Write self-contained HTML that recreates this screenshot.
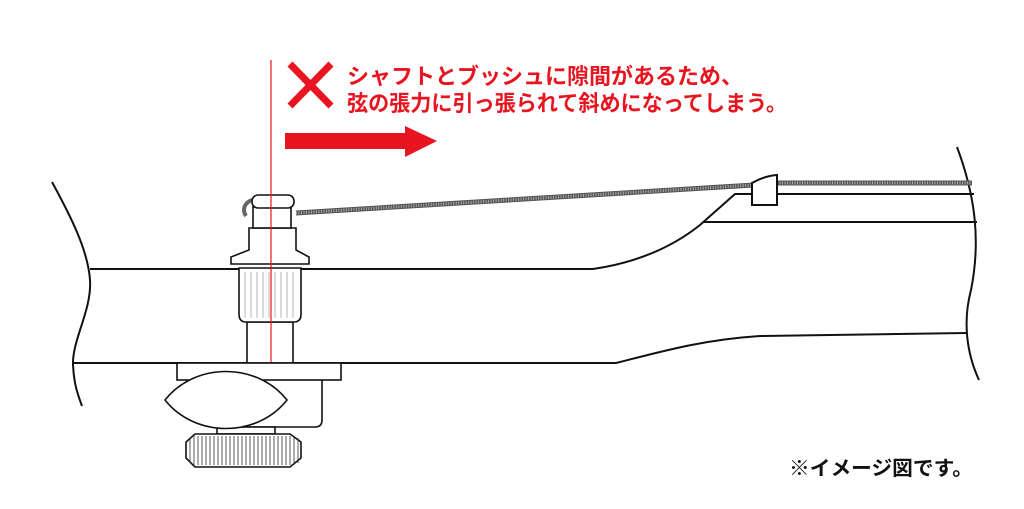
<!DOCTYPE html>
<html><head><meta charset="utf-8"><style>
html,body{margin:0;padding:0;background:#fff;width:1024px;height:509px;overflow:hidden}
</style></head><body>
<svg width="1024" height="509" viewBox="0 0 1024 509" xmlns="http://www.w3.org/2000/svg">
<g fill="none" stroke="#111" stroke-width="2">
<path d="M52,182 C70,215 88,250 90,280 C92,310 72,340 73,365 C74,385 78,395 82,406"/>
<line x1="90" y1="269" x2="593" y2="269"/>
<line x1="73" y1="363" x2="616" y2="363"/>
<path d="M593,269 C640,262 675,245 700,225 L735,194 L752,194"/>
<line x1="703" y1="222" x2="977" y2="222"/>
<line x1="777" y1="194" x2="974" y2="194"/>
<path d="M616,363 C660,352 700,340 760,336 L966,333"/>
<path d="M957,147 C975,195 981,240 971,290 C963,320 966,352 979,380"/>
</g>
<line x1="296" y1="213" x2="754" y2="185" stroke="#555" stroke-width="5"/>
<line x1="296" y1="213" x2="754" y2="185" stroke="#aaa" stroke-width="3" stroke-dasharray="1 1.5"/>
<line x1="777" y1="183" x2="972" y2="183" stroke="#555" stroke-width="5"/>
<line x1="777" y1="183" x2="972" y2="183" stroke="#aaa" stroke-width="3" stroke-dasharray="1 1.5"/>
<path d="M252,200 C244,203 242,210 246,216" stroke="#666" stroke-width="4" fill="none"/>
<path d="M752,183 Q764,176 777,175 L777,205 L752,205 Z" fill="#fff" stroke="#111" stroke-width="2"/>
<g fill="#fff" stroke="#111" stroke-width="1.6">
<path d="M322,380 L322,420 Q322,427 315,427 L218,427" fill="none"/>
<rect x="217" y="427" width="58" height="7"/>
<path d="M195,434 L290,434 L301,442 L301,458 L290,467 L195,467 L186,458 L186,442 Z"/>
<rect x="247" y="322" width="46" height="41"/>
<rect x="177" y="363" width="164" height="17"/>
<path d="M165,400 C195,362 257,362 287,400 C257,438 195,438 165,400 Z"/>
<path d="M239,268 L301,268 L301,314 Q301,322 294,322 L246,322 Q239,322 239,314 Z"/>
<path d="M249,228 L296,228 L296,250 L309,257 L309,264 L231,264 L231,257 L249,250 Z"/>
<rect x="253" y="207" width="38" height="21"/>
<rect x="252" y="195" width="42" height="13" rx="6"/>
</g>
<g stroke="#999" stroke-width="0.7">
<line x1="245" y1="272" x2="245" y2="318"/><line x1="251" y1="272" x2="251" y2="318"/><line x1="257" y1="272" x2="257" y2="318"/><line x1="263" y1="272" x2="263" y2="318"/><line x1="269" y1="272" x2="269" y2="318"/><line x1="275" y1="272" x2="275" y2="318"/><line x1="281" y1="272" x2="281" y2="318"/><line x1="287" y1="272" x2="287" y2="318"/><line x1="293" y1="272" x2="293" y2="318"/>
</g>
<g stroke="#333" stroke-width="0.8">
<path d="M190,438 L190,463 M194,436 L194,465 M198,436 L198,465 M202,436 L202,465 M206,436 L206,465 M210,436 L210,465 M214,436 L214,465 M218,436 L218,465 M222,436 L222,465 M226,436 L226,465 M230,436 L230,465 M234,436 L234,465 M238,436 L238,465 M242,436 L242,465 M246,436 L246,465 M250,436 L250,465 M254,436 L254,465 M258,436 L258,465 M262,436 L262,465 M266,436 L266,465 M270,436 L270,465 M274,436 L274,465 M278,436 L278,465 M282,436 L282,465 M286,436 L286,465 M290,436 L290,465 M294,436 L294,465 M298,438 L298,463"/>
</g>
<line x1="271" y1="60" x2="271" y2="362" stroke="#e8141f" stroke-width="1.2"/>
<g stroke="#e8141f" stroke-width="7">
<line x1="290" y1="64" x2="331" y2="106"/><line x1="331" y1="64" x2="290" y2="106"/>
</g>
<path d="M285,133 L405,133 L405,126 L437,141 L405,157 L405,149 L285,149 Z" fill="#e8141f"/>
<g font-family="'Liberation Sans','Noto Sans CJK JP',sans-serif" font-weight="bold">
<text x="347" y="84" font-size="22" fill="#e8141f" textLength="396" lengthAdjust="spacingAndGlyphs">シャフトとブッシュに隙間があるため、</text>
<text x="347" y="111" font-size="22" fill="#e8141f" textLength="440" lengthAdjust="spacingAndGlyphs">弦の張力に引っ張られて斜めになってしまう。</text>
<text x="789" y="475" font-size="20" fill="#111" textLength="184" lengthAdjust="spacingAndGlyphs">※イメージ図です。</text>
</g>
</svg>
</body></html>
